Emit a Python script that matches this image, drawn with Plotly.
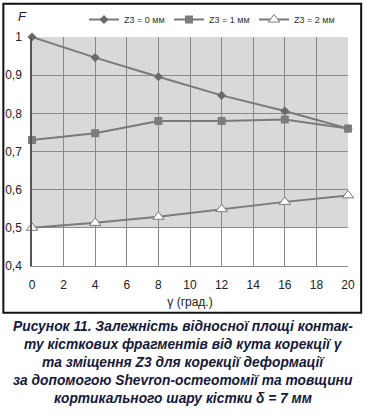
import plotly.graph_objects as go

gamma = [0, 4, 8, 12, 16, 20]
f_z0 = [1.0, 0.946, 0.896, 0.847, 0.806, 0.760]
f_z1 = [0.730, 0.748, 0.780, 0.780, 0.784, 0.760]
f_z2 = [0.500, 0.513, 0.529, 0.549, 0.568, 0.585]
names = ["Z3 = 0 мм", "Z3 = 1 мм", "Z3 = 2 мм"]
y_ticks = [0.4, 0.5, 0.6, 0.7, 0.8, 0.9, 1.0]
y_ticktext = ["0,4", "0,5", "0,6", "0,7", "0,8", "0,9", "1"]
x_ticks = list(range(0, 21, 2))
caption = ["Рисунок 11. Залежність відносної площі контак-",
           "ту кісткових фрагментів від кута корекції γ",
           "та зміщення Z3 для корекції деформації",
           "за допомогою Shevron-остеотомії та товщини",
           "кортикального шару кістки δ = 7 мм"]

W, H = 366, 416
L, R, T, B = 31.7, 348.3, 36.7, 265.7
pw, ph = R - L, B - T

def px(x):
    return (x - L) / pw

def py(y):
    return (B - y) / ph

fig = go.Figure()
line_col = "#7a7a7a"
fig.add_trace(go.Scatter(x=gamma, y=f_z0, name=names[0], mode="lines+markers",
                         line=dict(color=line_col, width=2),
                         marker=dict(symbol="diamond", size=7, color="#6a6a6a"),
                         cliponaxis=False))
fig.add_trace(go.Scatter(x=gamma, y=f_z1, name=names[1], mode="lines+markers",
                         line=dict(color=line_col, width=2),
                         marker=dict(symbol="square", size=8, color="#7c7c7c"),
                         cliponaxis=False))
fig.add_trace(go.Scatter(x=gamma, y=f_z2, name=names[2], mode="lines+markers",
                         line=dict(color=line_col, width=2),
                         marker=dict(symbol="triangle-up", size=10, color="white",
                                     line=dict(color="#7a7a7a", width=1)),
                         cliponaxis=False))

shapes = [
    dict(type="rect", xref="x", yref="y", x0=0, x1=20, y0=0.5, y1=1.0,
         fillcolor="#d9d9db", line=dict(width=0), layer="below"),
    dict(type="rect", xref="paper", yref="paper",
         x0=px(3), x1=px(361.5), y0=py(312.5), y1=py(3.5),
         line=dict(color="#111", width=2), fillcolor="rgba(0,0,0,0)"),
]

annotations = [
    dict(text="<i>F</i>", xref="paper", yref="paper", x=px(22), y=py(16),
         showarrow=False, font=dict(size=13, color="#222", family="Liberation Sans"),
         xanchor="center", yanchor="middle"),
]
cap_y = [326, 344.3, 362.5, 380.3, 398]
for txt, yy in zip(caption, cap_y):
    annotations.append(dict(text="<b><i>" + txt + "</i></b>", xref="paper", yref="paper",
                            x=px(183), y=py(yy), showarrow=False,
                            xanchor="center", yanchor="middle",
                            font=dict(size=13.8, color="#16193a", family="Liberation Sans")))

fig.update_layout(
    width=W, height=H,
    margin=dict(l=L, r=W - R, t=T, b=H - B, pad=0, autoexpand=False),
    paper_bgcolor="white", plot_bgcolor="white",
    font=dict(family="Liberation Sans", size=12, color="#222"),
    shapes=shapes, annotations=annotations,
    showlegend=True,
    legend=dict(orientation="h", xref="container", yref="container",
                x=84 / W, y=1 - 5 / H, xanchor="left", yanchor="top",
                font=dict(size=9, color="#333", family="Liberation Sans"),
                entrywidth=40, entrywidthmode="pixels", itemwidth=30,
                bgcolor="rgba(0,0,0,0)", tracegroupgap=0),
    xaxis=dict(range=[0, 20], tickvals=x_ticks, ticks="", showgrid=True,
               gridcolor="#8a8a8a", gridwidth=1, zeroline=False, automargin=False,
               showline=True, linecolor="#8a8a8a", linewidth=1,
               tickfont=dict(size=12), ticklabelstandoff=8,
               title=dict(text="γ (град.)", font=dict(size=12), standoff=6)),
    yaxis=dict(range=[0.4, 1.0], tickvals=y_ticks, ticktext=y_ticktext, ticks="",
               showgrid=True, gridcolor="#8a8a8a", gridwidth=1, zeroline=False,
               automargin=False,
               showline=True, linecolor="#555", linewidth=1.5,
               tickfont=dict(size=12), ticklabelstandoff=6),
)

fig.write_html("out.html", config={"displayModeBar": False},
               post_script="document.body.style.margin='0';document.body.style.overflow='hidden';")
